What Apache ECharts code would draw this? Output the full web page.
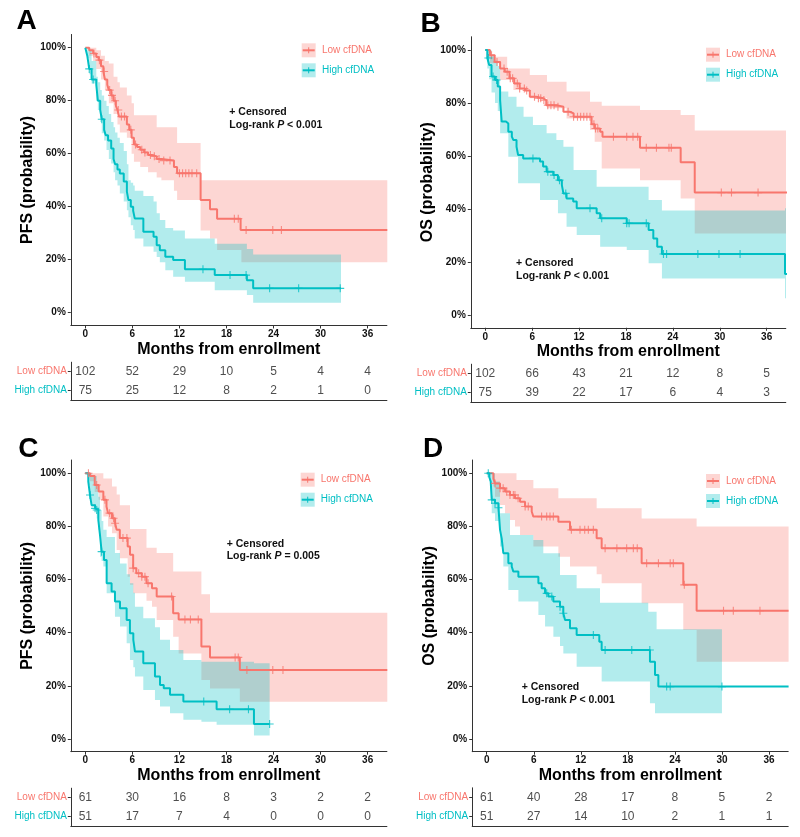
<!DOCTYPE html>
<html><head><meta charset="utf-8">
<script src="https://cdn.jsdelivr.net/npm/echarts@6/dist/echarts.min.js"></script>
<style>html,body{margin:0;padding:0;background:#fff}#c{width:800px;height:837px}</style>
</head><body><div id="c"></div>
<script>
// ---------------- DATA ----------------
const riskTimes = [0, 6, 12, 18, 24, 30, 36];
const groups = ['Low cfDNA', 'High cfDNA'];
const yTicks = [0, 0.2, 0.4, 0.6, 0.8, 1.0];

// Panel A (PFS, all)
const A_low = [[0,1],[0.5,0.99],[1.0,0.978],[1.4,0.965],[1.7,0.953],[2.0,0.93],[2.3,0.91],[2.5,0.88],[2.8,0.86],[3.0,0.84],[3.3,0.82],[3.6,0.8],[3.9,0.78],[4.1,0.765],[4.3,0.74],[5.3,0.71],[5.6,0.69],[5.9,0.66],[6.2,0.635],[6.6,0.625],[7.0,0.615],[7.5,0.605],[8.0,0.595],[8.5,0.59],[9.1,0.58],[9.7,0.574],[11.3,0.55],[11.7,0.526],[14.7,0.425],[15.9,0.39],[16.8,0.355],[19.8,0.312],[38.5,0.312]];
const A_lowCens = [1.1,1.8,2.4,3.1,3.4,3.8,4.2,4.6,5.0,5.8,6.4,7.2,7.6,8.3,8.8,9.4,10.0,10.8,12.0,12.4,12.8,13.2,13.6,14.2,19.0,19.5,20.5,23.9,25.0];
const A_high = [[0,1],[0.25,0.97],[0.5,0.92],[0.8,0.88],[1.4,0.86],[1.6,0.8],[1.9,0.765],[2.1,0.73],[2.4,0.69],[2.6,0.67],[2.9,0.65],[3.3,0.62],[3.6,0.58],[3.8,0.56],[4.1,0.54],[4.4,0.525],[4.9,0.495],[5.3,0.457],[5.5,0.425],[5.8,0.4],[6.1,0.385],[6.3,0.356],[7.4,0.306],[8.7,0.287],[9.1,0.255],[9.5,0.236],[10.2,0.211],[11.2,0.199],[12.7,0.164],[16.5,0.142],[20.6,0.123],[21.4,0.092],[32.6,0.092]];
const A_highCens = [0.5,1.0,2.1,15.0,18.45,20.5,23.5,27.2,32.5];
const A_lowBand = [[0,1,1],[0.5,0.97,1],[1.0,0.95,1],[1.4,0.92,0.99],[2.0,0.88,0.97],[2.5,0.84,0.95],[3.0,0.79,0.94],[3.6,0.75,0.89],[4.1,0.71,0.87],[4.4,0.68,0.85],[5.3,0.66,0.82],[5.9,0.6,0.79],[6.2,0.57,0.745],[7.0,0.55,0.745],[8.0,0.53,0.745],[9.1,0.51,0.70],[9.7,0.50,0.70],[11.3,0.46,0.70],[11.7,0.425,0.64],[14.7,0.31,0.5],[15.9,0.28,0.5],[16.8,0.237,0.5],[19.9,0.19,0.5],[38.5,0.19,0.5]];
const A_highBand = [[0,1,1],[0.25,0.96,1],[0.5,0.9,0.99],[0.8,0.865,0.95],[1.4,0.8,0.89],[1.6,0.765,0.87],[1.9,0.72,0.84],[2.1,0.677,0.82],[2.4,0.65,0.8],[2.7,0.614,0.78],[3.0,0.58,0.75],[3.3,0.563,0.72],[3.6,0.53,0.7],[3.8,0.5,0.68],[4.1,0.48,0.66],[4.4,0.45,0.64],[4.9,0.42,0.61],[5.3,0.387,0.56],[5.5,0.36,0.5],[5.8,0.33,0.49],[6.1,0.312,0.48],[6.3,0.28,0.46],[7.4,0.25,0.44],[8.7,0.23,0.42],[9.1,0.21,0.375],[9.5,0.19,0.35],[10.2,0.16,0.32],[11.2,0.136,0.31],[12.7,0.117,0.28],[16.5,0.085,0.26],[20.6,0.067,0.24],[21.4,0.038,0.22],[32.6,0.038,0.22]];
const A_riskLow = [102,52,29,10,5,4,4];
const A_riskHigh = [75,25,12,8,2,1,0];

// Panel B (OS, all)
const B_low = [[0,1],[0.6,0.98],[1.2,0.955],[1.9,0.93],[2.5,0.918],[3.1,0.893],[3.7,0.874],[4.4,0.855],[5.1,0.847],[5.7,0.824],[6.5,0.818],[7.4,0.811],[7.8,0.792],[9.1,0.786],[10.0,0.767],[10.8,0.761],[11.3,0.748],[13.6,0.72],[14.0,0.704],[14.7,0.692],[15.0,0.673],[19.8,0.631],[25.0,0.576],[26.8,0.462],[38.6,0.462]];
const B_lowCens = [0.8,1.5,2.4,2.8,3.2,3.5,4.1,4.4,5.0,5.3,6.3,6.8,7.1,7.5,8.0,8.4,8.8,9.3,10.6,11.3,11.8,12.2,12.6,13.0,13.4,13.9,14.1,14.4,16.4,18.1,18.9,19.5,20.6,21.9,23.5,23.8,30.2,31.5,34.9];
const B_high = [[0,1],[0.26,0.97],[0.5,0.943],[0.8,0.9],[1.25,0.887],[1.6,0.862],[1.9,0.811],[2.1,0.73],[2.65,0.723],[2.95,0.692],[3.4,0.673],[3.6,0.66],[4.0,0.635],[4.2,0.604],[4.85,0.591],[7.0,0.579],[7.4,0.56],[7.85,0.541],[8.7,0.528],[9.3,0.509],[9.8,0.49],[10.0,0.459],[10.4,0.44],[11.25,0.428],[11.7,0.403],[14.25,0.384],[14.7,0.365],[18.1,0.346],[20.9,0.321],[21.5,0.289],[22.0,0.258],[22.6,0.23],[38.35,0.155],[38.6,0.155]];
const B_highCens = [0.4,1.0,1.45,6.1,8.0,8.8,9.5,10.3,13.4,14.9,18.1,18.4,20.6,22.8,23.2,27.2,29.9,32.6];
const B_lowBand = [[0,1,1],[0.3,0.97,1],[0.6,0.95,0.975],[1.9,0.887,0.975],[2.8,0.887,0.93],[3.6,0.849,0.93],[5.7,0.818,0.906],[7.9,0.78,0.88],[10.4,0.742,0.843],[13.4,0.698,0.805],[14.0,0.654,0.805],[14.9,0.553,0.79],[19.8,0.509,0.774],[25.0,0.44,0.755],[26.8,0.308,0.696],[38.6,0.308,0.696]];
const B_highBand = [[0,1,1],[0.26,0.93,1],[0.5,0.89,1],[0.8,0.84,0.98],[1.25,0.8,0.96],[1.6,0.77,0.94],[1.9,0.686,0.843],[2.95,0.597,0.824],[4.0,0.597,0.786],[4.2,0.497,0.786],[4.9,0.497,0.748],[6.1,0.497,0.717],[7.0,0.434,0.717],[7.85,0.434,0.686],[9.1,0.434,0.66],[9.3,0.384,0.66],[10.0,0.384,0.635],[10.4,0.333,0.635],[11.3,0.333,0.547],[11.7,0.302,0.547],[14.25,0.302,0.484],[14.7,0.258,0.484],[18.1,0.245,0.484],[20.9,0.195,0.434],[22.6,0.138,0.394],[38.35,0.063,0.403],[38.6,0.063,0.403]];
const B_riskLow = [102,66,43,21,12,8,5];
const B_riskHigh = [75,39,22,17,6,4,3];

// Panel C (PFS, subgroup)
const C_low = [[0,1],[0.6,0.99],[1.2,0.956],[1.7,0.931],[2.3,0.9],[2.7,0.875],[2.9,0.85],[3.4,0.831],[3.8,0.812],[4.0,0.787],[4.4,0.756],[5.4,0.724],[5.7,0.693],[6.1,0.643],[6.5,0.624],[7.2,0.611],[7.8,0.586],[8.5,0.567],[9.1,0.536],[11.2,0.473],[11.9,0.45],[14.8,0.348],[15.9,0.307],[19.7,0.26],[38.5,0.26]];
const C_lowCens = [0.4,1.45,2.5,3.1,3.6,3.8,4.8,5.3,6.1,6.8,7.2,7.6,8.0,11.0,12.7,13.4,14.4,19.1,19.5,20.6,23.9,25.2];
const C_high = [[0,1],[0.38,0.969],[0.6,0.918],[0.8,0.88],[1.25,0.868],[1.45,0.862],[1.66,0.824],[1.87,0.768],[2.08,0.705],[2.38,0.674],[2.72,0.586],[3.35,0.555],[3.78,0.517],[4.42,0.492],[5.27,0.448],[5.69,0.398],[6.12,0.373],[6.33,0.329],[7.39,0.285],[8.88,0.235],[9.52,0.203],[10.0,0.191],[10.8,0.166],[12.5,0.141],[16.74,0.112],[21.5,0.056],[23.5,0.056]];
const C_highCens = [0.6,1.25,1.45,2.08,15.1,18.4,20.8,23.5];
const C_lowBand = [[0,1,1],[0.6,0.97,1],[1.2,0.93,1],[1.7,0.9,1],[2.3,0.837,0.98],[2.9,0.8,0.98],[3.4,0.774,0.95],[4.0,0.711,0.92],[4.4,0.68,0.88],[5.4,0.611,0.88],[5.7,0.58,0.79],[6.1,0.548,0.79],[7.8,0.52,0.72],[8.5,0.498,0.72],[9.1,0.448,0.70],[11.2,0.385,0.63],[11.9,0.322,0.63],[14.8,0.222,0.545],[15.9,0.19,0.475],[19.7,0.14,0.475],[38.5,0.14,0.475]];
const C_highBand = [[0,1,1],[0.38,0.956,1],[0.6,0.9,1],[0.8,0.875,0.99],[1.45,0.83,0.96],[1.66,0.787,0.912],[1.87,0.686,0.862],[2.08,0.67,0.82],[2.3,0.649,0.787],[2.72,0.548,0.76],[3.78,0.46,0.70],[4.42,0.423,0.66],[5.27,0.36,0.62],[5.69,0.297,0.586],[6.12,0.27,0.55],[6.33,0.235,0.498],[7.39,0.184,0.454],[8.88,0.147,0.42],[9.52,0.122,0.373],[10.8,0.097,0.335],[12.5,0.072,0.297],[14.8,0.065,0.291],[16.74,0.053,0.291],[21.5,0.013,0.285],[23.5,0.013,0.285]];
const C_riskLow = [61,30,16,8,3,2,2];
const C_riskHigh = [51,17,7,4,0,0,0];

// Panel D (OS, subgroup)
const D_low = [[0,1],[0.85,0.98],[1.06,0.962],[1.7,0.944],[2.34,0.931],[2.97,0.918],[3.61,0.906],[4.25,0.893],[4.89,0.875],[5.74,0.856],[5.95,0.837],[9.14,0.818],[10.62,0.787],[14.02,0.755],[14.66,0.718],[19.76,0.661],[25.07,0.58],[26.77,0.483],[38.5,0.483]];
const D_lowCens = [1.06,1.7,2.1,2.55,2.97,3.4,3.6,4.0,4.9,5.3,7.0,7.65,8.07,8.5,10.8,11.9,12.5,12.96,13.6,15.1,16.6,17.85,18.7,19.2,20.4,21.9,23.4,23.8,25.2,30.2,31.45,34.85];
const D_high = [[0,1],[0.34,0.985],[0.51,0.969],[0.64,0.9],[1.06,0.887],[1.5,0.87],[1.7,0.787],[1.91,0.755],[2.12,0.699],[2.76,0.661],[3.19,0.649],[3.4,0.63],[4.04,0.611],[6.59,0.586],[7.01,0.567],[7.44,0.548],[7.86,0.536],[8.5,0.517],[9.35,0.498],[9.77,0.473],[9.99,0.448],[10.62,0.417],[11.47,0.391],[14.36,0.366],[14.66,0.335],[20.82,0.291],[21.46,0.241],[21.89,0.197],[38.5,0.197]];
const D_highCens = [0.2,0.64,1.06,1.5,7.65,8.3,9.35,9.77,13.6,15.1,18.5,20.8,22.95,23.4,30.0];
const D_lowBand = [[0,1,1],[0.85,0.95,1],[1.06,0.912,1],[1.7,0.881,1],[2.34,0.85,1],[2.97,0.824,1],[3.61,0.8,1],[3.8,0.8,0.975],[4.25,0.768,0.975],[5.95,0.724,0.944],[9.14,0.686,0.906],[10.62,0.649,0.906],[14.02,0.62,0.868],[14.66,0.586,0.868],[19.76,0.511,0.83],[25.07,0.41,0.83],[26.77,0.291,0.8],[38.5,0.291,0.8]];
const D_highBand = [[0,1,1],[0.34,0.97,1],[0.51,0.95,1],[0.64,0.85,1],[1.06,0.82,0.969],[1.7,0.724,0.85],[2.12,0.649,0.85],[2.76,0.561,0.85],[2.97,0.561,0.768],[4.04,0.517,0.768],[5.95,0.517,0.749],[6.59,0.467,0.749],[7.22,0.467,0.699],[7.44,0.423,0.699],[8.5,0.385,0.699],[9.35,0.35,0.617],[9.77,0.322,0.617],[11.47,0.272,0.567],[14.45,0.272,0.513],[14.66,0.216,0.513],[20.6,0.216,0.479],[20.82,0.134,0.479],[21.46,0.097,0.479],[21.67,0.097,0.413],[30.0,0.09,0.413]];
const D_riskLow = [61,40,28,17,8,5,2];
const D_riskHigh = [51,27,14,10,2,1,1];

// ---------------- LAYOUT / STYLE ----------------
const RED = '#F8766D', CYAN = '#00BFC4';
const RED_BAND = 'rgba(248,118,109,0.3)', CYAN_BAND = 'rgba(0,191,196,0.3)';
const FONT = '"Liberation Sans", Arial, Helvetica, sans-serif';
const AX = '#333333';
const XMIN = -1.85, XMAX = 38.45, YMIN = -0.048, YMAX = 1.05;

const panels = [
  {letter:'A', lx:26.7, ly:21, ylab:'PFS (probability)', p:'< 0.001',
   g:{left:70.8, width:316.1, top:34.45, height:291}, t:{top:362.2},
   ann:{x:229.3, y:112.3}, leg:{x:301.7, y:43.3, tx:322},
   low:A_low, high:A_high, lowC:A_lowCens, highC:A_highCens, lowB:A_lowBand, highB:A_highBand, rl:A_riskLow, rh:A_riskHigh},
  {letter:'B', lx:430.7, ly:24.5, ylab:'OS (probability)', p:'< 0.001',
   g:{left:470.8, width:315.0, top:36.75, height:291}, t:{top:364.2},
   ann:{x:516, y:263.3}, leg:{x:706, y:47.7, tx:726},
   low:B_low, high:B_high, lowC:B_lowCens, highC:B_highCens, lowB:B_lowBand, highB:B_highBand, rl:B_riskLow, rh:B_riskHigh},
  {letter:'C', lx:28.3, ly:449.5, ylab:'PFS (probability)', p:'= 0.005',
   g:{left:70.8, width:316.1, top:460.0, height:291.7}, t:{top:788.2},
   ann:{x:226.7, y:544}, leg:{x:300.7, y:472.7, tx:320.7},
   low:C_low, high:C_high, lowC:C_lowCens, highC:C_highCens, lowB:C_lowBand, highB:C_highBand, rl:C_riskLow, rh:C_riskHigh},
  {letter:'D', lx:433, ly:449.5, ylab:'OS (probability)', p:'< 0.001',
   g:{left:472.2, width:316.0, top:460.0, height:291.7}, t:{top:787.8},
   ann:{x:521.7, y:687.3}, leg:{x:706, y:474, tx:726},
   low:D_low, high:D_high, lowC:D_lowCens, highC:D_highCens, lowB:D_lowBand, highB:D_highBand, rl:D_riskLow, rh:D_riskHigh}
];

const PLUS = 'path://M3.45,0H4.55V3.45H8V4.55H4.55V8H3.45V4.55H0V3.45H3.45Z';

function survAt(curve, t) {
  let s = 1;
  for (const [tt, v] of curve) { if (tt <= t + 1e-9) s = v; else break; }
  return s;
}

function bandSeries(band, color, idx) {
  return {
    type:'custom', xAxisIndex:idx, yAxisIndex:idx, silent:true, clip:true, z:1,
    data: band.map(r => [r[0], r[1], r[2]]),
    renderItem: function(params, api) {
      if (params.dataIndex !== 0) return null;
      const up = [], lo = [];
      for (let i = 0; i < band.length - 1; i++) {
        const t0 = band[i][0], t1 = band[i+1][0];
        up.push(api.coord([t0, band[i][2]]), api.coord([t1, band[i][2]]));
        lo.push(api.coord([t0, band[i][1]]), api.coord([t1, band[i][1]]));
      }
      return {type:'polygon', shape:{points: up.concat(lo.reverse())}, style:{fill:color}};
    }
  };
}

const grid = [], xAxis = [], yAxis = [], series = [], graphic = [];

panels.forEach((P, i) => {
  const m = 2*i, t = 2*i + 1;
  grid.push({left:P.g.left, top:P.g.top, width:P.g.width, height:P.g.height, containLabel:false});
  grid.push({left:P.g.left, top:P.t.top, width:P.g.width, height:38, containLabel:false});

  xAxis.push({
    type:'value', gridIndex:m, min:XMIN, max:XMAX,
    axisLine:{show:true, onZero:false, lineStyle:{color:AX, width:1}},
    axisTick:{show:true, length:3, lineStyle:{color:AX}, customValues:riskTimes},
    axisLabel:{show:true, customValues:riskTimes, fontFamily:FONT, fontWeight:'bold', fontSize:10, color:'#111', margin:4},
    splitLine:{show:false},
    name:'Months from enrollment', nameLocation:'middle', nameGap:16,
    nameTextStyle:{fontFamily:FONT, fontWeight:'bold', fontSize:16, color:'#000'}
  });
  xAxis.push({
    type:'value', gridIndex:t, min:XMIN, max:XMAX,
    axisLine:{show:true, onZero:false, lineStyle:{color:AX, width:1}},
    axisTick:{show:false}, axisLabel:{show:false}, splitLine:{show:false}
  });
  yAxis.push({
    type:'value', gridIndex:m, min:YMIN, max:YMAX,
    axisLine:{show:true, onZero:false, lineStyle:{color:AX, width:1}},
    axisTick:{show:true, length:3, lineStyle:{color:AX}, customValues:yTicks},
    axisLabel:{show:true, customValues:yTicks, formatter:v => Math.round(v*100) + '%',
      fontFamily:FONT, fontWeight:'bold', fontSize:10, color:'#111', margin:5},
    splitLine:{show:false},
    name:P.ylab, nameLocation:'middle', nameGap:35,
    nameTextStyle:{fontFamily:FONT, fontWeight:'bold', fontSize:16, color:'#000'}
  });
  yAxis.push({
    type:'category', gridIndex:t, data:groups, inverse:true,
    axisLine:{show:true, onZero:false, lineStyle:{color:AX, width:1}},
    axisTick:{show:true, alignWithLabel:true, length:3, lineStyle:{color:AX}},
    axisLabel:{fontFamily:FONT, fontSize:10, margin:4,
      color: (v) => v === 'Low cfDNA' ? RED : CYAN},
    splitLine:{show:false}
  });

  // bands
  series.push(bandSeries(P.lowB, RED_BAND, m));
  series.push(bandSeries(P.highB, CYAN_BAND, m));
  // curves
  [[P.low, RED], [P.high, CYAN]].forEach(([c, col]) => {
    series.push({type:'line', xAxisIndex:m, yAxisIndex:m, step:'end', data:c, showSymbol:false,
      symbol:'none', silent:true, z:3, clip:true, lineStyle:{color:col, width:2}});
  });
  // censor marks
  [[P.lowC, P.low, RED], [P.highC, P.high, CYAN]].forEach(([cs, c, col]) => {
    series.push({type:'scatter', xAxisIndex:m, yAxisIndex:m, symbol:PLUS, symbolSize:8, silent:true, z:4,
      itemStyle:{color:col}, data:cs.map(x => [x, survAt(c, x)])});
  });
  // risk table
  [[P.rl, groups[0]], [P.rh, groups[1]]].forEach(([arr, g]) => {
    series.push({type:'scatter', xAxisIndex:t, yAxisIndex:t, symbolSize:1, silent:true,
      itemStyle:{color:'rgba(0,0,0,0)'},
      label:{show:true, position:'inside', formatter:p => String(p.value[2]),
        fontFamily:FONT, fontSize:12, color:'#222'},
      data:riskTimes.map((tt, k) => [tt, g, arr[k]])});
  });

  // panel letter
  graphic.push({type:'text', x:P.lx, y:P.ly, style:{text:P.letter, font:'bold 28px ' + FONT, fill:'#000', align:'center', verticalAlign:'middle'}});
  // annotation
  graphic.push({type:'text', x:P.ann.x, y:P.ann.y, style:{text:'+ Censored', font:'bold 10.5px ' + FONT, fill:'#111', align:'left', verticalAlign:'middle'}});
  graphic.push({type:'text', x:P.ann.x, y:P.ann.y + 12.5, style:{
    text:'{b|Log-rank }{i|P}{b| ' + P.p + '}', align:'left', verticalAlign:'middle',
    rich:{b:{font:'bold 10.5px ' + FONT, fill:'#111'}, i:{font:'italic bold 10.5px ' + FONT, fill:'#111'}}}});
  // legend
  [[groups[0], RED, RED_BAND, 0], [groups[1], CYAN, CYAN_BAND, 20]].forEach(([name, col, bcol, dy]) => {
    const x = P.leg.x, y = P.leg.y + dy;
    graphic.push({type:'rect', shape:{x:x, y:y, width:14, height:14}, style:{fill:bcol}});
    graphic.push({type:'line', shape:{x1:x+1, y1:y+7, x2:x+13, y2:y+7}, style:{stroke:col, lineWidth:2}});
    graphic.push({type:'line', shape:{x1:x+7, y1:y+4, x2:x+7, y2:y+10}, style:{stroke:col, lineWidth:1}});
    graphic.push({type:'text', x:P.leg.tx, y:y+7, style:{text:name, font:'10px ' + FONT, fill:col, align:'left', verticalAlign:'middle'}});
  });
});

const chart = echarts.init(document.getElementById('c'), null, {renderer:'canvas'});
chart.setOption({animation:false, backgroundColor:'#fff', grid, xAxis, yAxis, series, graphic});
</script></body></html>
